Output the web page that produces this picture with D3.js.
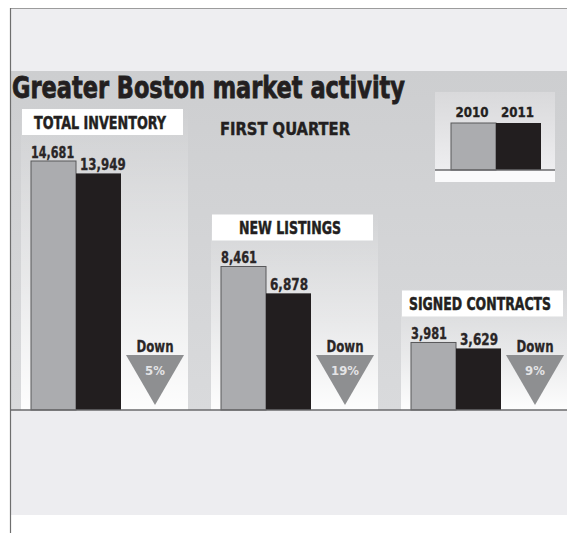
<!DOCTYPE html>
<html>
<head>
<meta charset="utf-8">
<script src="https://cdn.jsdelivr.net/npm/d3@7"></script>
<style>
  html, body { margin: 0; padding: 0; background: #fff; }
  svg { display: block; }
  text { font-family: "Liberation Sans Narrow", "DejaVu Sans Condensed", "Roboto", sans-serif; font-weight: bold; }
</style>
</head>
<body>
<div id="chart"></div>
<script>
// data
const categories = ["TOTAL INVENTORY", "NEW LISTINGS", "SIGNED CONTRACTS"];
const years = ["2010", "2011"];
const values2010 = [14681, 8461, 3981];
const values2011 = [13949, 6878, 3629];
const changeLabels = ["5%", "19%", "9%"];
const changeWord = "Down";
const title = "Greater Boston market activity";
const subtitle = "FIRST QUARTER";

const width = 567;
const height = 533;
const baseline = 410;
const barW = 45;
const colors = { "2010": "#abacaf", "2011": "#221e1f" };

const fmt = d3.format(",");

const svg = d3.select("#chart")
  .append("svg")
  .attr("width", width)
  .attr("height", height);

const defs = svg.append("defs");

let g1 = defs.append("linearGradient").attr("id", "panelGrad")
  .attr("x1", 0).attr("y1", 0).attr("x2", 0).attr("y2", 1);
g1.append("stop").attr("offset", "0%").attr("stop-color", "#cdced0");
g1.append("stop").attr("offset", "100%").attr("stop-color", "#d9dadc");

let g2 = defs.append("linearGradient").attr("id", "colGrad")
  .attr("x1", 0).attr("y1", 0).attr("x2", 0).attr("y2", 1);
g2.append("stop").attr("offset", "0%").attr("stop-color", "#ffffff").attr("stop-opacity", 0);
g2.append("stop").attr("offset", "55%").attr("stop-color", "#ffffff").attr("stop-opacity", 0.45);
g2.append("stop").attr("offset", "100%").attr("stop-color", "#ffffff").attr("stop-opacity", 0.95);

let g3 = defs.append("linearGradient").attr("id", "legGrad")
  .attr("x1", 0).attr("y1", 0).attr("x2", 0).attr("y2", 1);
g3.append("stop").attr("offset", "0%").attr("stop-color", "#d9d9db");
g3.append("stop").attr("offset", "100%").attr("stop-color", "#f1f1f3");

// background bands
svg.append("rect").attr("x", 10).attr("y", 8).attr("width", width - 10).attr("height", 63)
  .attr("fill", "#eeeef1");
svg.append("rect").attr("x", 10).attr("y", 71).attr("width", width - 10).attr("height", baseline - 71)
  .attr("fill", "url(#panelGrad)");
svg.append("rect").attr("x", 10).attr("y", baseline).attr("width", width - 10).attr("height", 515 - baseline)
  .attr("fill", "#ededf0");

svg.append("line").attr("x1", 10).attr("x2", width).attr("y1", 8.5).attr("y2", 8.5)
  .attr("stroke", "#9c9c9c").attr("stroke-width", 1);
svg.append("line").attr("x1", 10.5).attr("x2", 10.5).attr("y1", 8).attr("y2", height)
  .attr("stroke", "#6e6e6e").attr("stroke-width", 1.2);

// scales
const x = d3.scaleBand()
  .domain(categories)
  .range([31, 31 + 3 * 190])
  .paddingInner(0);

const y = d3.scaleLinear()
  .domain([0, d3.max(values2010.concat(values2011))])
  .range([baseline, 161]);

const rows = categories.map((c, i) => ({
  cat: c,
  v2010: values2010[i],
  v2011: values2011[i],
  change: changeLabels[i]
}));

// lighter columns behind each group
svg.append("g")
  .selectAll("rect")
  .data(rows)
  .join("rect")
  .attr("x", (d) => x(d.cat) - 10)
  .attr("y", (d) => y(d.v2010) - 55)
  .attr("width", 167)
  .attr("height", (d) => baseline - y(d.v2010) + 55)
  .attr("fill", "url(#colGrad)");

// title
svg.append("text")
  .attr("x", 12)
  .attr("y", 98)
  .attr("textLength", 393)
  .attr("lengthAdjust", "spacingAndGlyphs")
  .style("font-size", "31px")
  .style("font-weight", "900")
  .attr("fill", "#231f20")
  .attr("stroke", "#231f20")
  .attr("stroke-width", 0.8)
  .text(title);

svg.append("text")
  .attr("x", 220)
  .attr("y", 135)
  .attr("textLength", 130)
  .attr("lengthAdjust", "spacingAndGlyphs")
  .style("font-size", "18px")
  .attr("fill", "#231f20")
  .attr("stroke", "#231f20")
  .attr("stroke-width", 0.4)
  .text(subtitle);

const groups = svg.append("g")
  .selectAll("g")
  .data(rows)
  .join("g")
  .attr("class", "group");

// label boxes
groups.append("rect")
  .attr("x", (d) => x(d.cat) - 9)
  .attr("y", (d) => y(d.v2010) - 52)
  .attr("width", 161)
  .attr("height", 26)
  .attr("fill", "#ffffff");

const labelWidths = { "TOTAL INVENTORY": 132, "NEW LISTINGS": 102, "SIGNED CONTRACTS": 142 };

groups.append("g")
  .attr("transform", (d) => `translate(${x(d.cat) - 9 + 78}, ${y(d.v2010) - 52 + 20}) scale(1, 1.3)`)
  .append("text")
  .attr("x", 0)
  .attr("y", 0)
  .attr("text-anchor", "middle")
  .attr("textLength", (d) => labelWidths[d.cat])
  .attr("lengthAdjust", "spacingAndGlyphs")
  .style("font-size", "13px")
  .attr("fill", "#231f20")
  .attr("stroke", "#231f20")
  .attr("stroke-width", 0.35)
  .text((d) => d.cat);

// bars
groups.append("rect")
  .attr("x", (d) => x(d.cat))
  .attr("y", (d) => y(d.v2010))
  .attr("width", barW)
  .attr("height", (d) => baseline - y(d.v2010))
  .attr("fill", colors["2010"])
  .attr("stroke", "#58585a")
  .attr("stroke-width", 1);

groups.append("rect")
  .attr("x", (d) => x(d.cat) + barW)
  .attr("y", (d) => y(d.v2011))
  .attr("width", barW)
  .attr("height", (d) => baseline - y(d.v2011))
  .attr("fill", colors["2011"]);

// value labels
groups.append("text")
  .attr("x", (d) => x(d.cat))
  .attr("y", (d) => y(d.v2010) - 3)
  .attr("textLength", (d) => fmt(d.v2010).length * 7.2)
  .attr("lengthAdjust", "spacingAndGlyphs")
  .style("font-size", "15px")
  .attr("fill", "#2a2627")
  .attr("stroke", "#2a2627")
  .attr("stroke-width", 0.3)
  .text((d) => fmt(d.v2010));

groups.append("text")
  .attr("x", (d) => x(d.cat) + barW + 4)
  .attr("y", (d) => y(d.v2011) - 3)
  .attr("textLength", (d) => fmt(d.v2011).length * 7.6)
  .attr("lengthAdjust", "spacingAndGlyphs")
  .style("font-size", "15px")
  .attr("fill", "#2a2627")
  .attr("stroke", "#2a2627")
  .attr("stroke-width", 0.3)
  .text((d) => fmt(d.v2011));

// down arrows
const triTop = 355;
const triBottom = 405;
groups.append("path")
  .attr("d", (d) => {
    const cx = x(d.cat) + 124;
    return d3.line()([[cx - 29, triTop], [cx + 29, triTop], [cx, triBottom]]) + "Z";
  })
  .attr("fill", "#8e8f91");

groups.append("text")
  .attr("x", (d) => x(d.cat) + 124)
  .attr("y", 352)
  .attr("text-anchor", "middle")
  .attr("textLength", 37)
  .attr("lengthAdjust", "spacingAndGlyphs")
  .style("font-size", "16px")
  .attr("fill", "#2a2627")
  .attr("stroke", "#2a2627")
  .attr("stroke-width", 0.3)
  .text(changeWord);

groups.append("text")
  .attr("x", (d) => x(d.cat) + 124)
  .attr("y", 375)
  .attr("text-anchor", "middle")
  .style("font-size", "13px")
  .attr("fill", "#e4e4e6")
  .text((d) => d.change);

// baseline
svg.append("line")
  .attr("x1", 10).attr("x2", width)
  .attr("y1", baseline).attr("y2", baseline)
  .attr("stroke", "#6a6a6c")
  .attr("stroke-width", 1.5);

// legend
const leg = svg.append("g").attr("class", "legend");
leg.append("rect").attr("x", 435).attr("y", 92).attr("width", 120).attr("height", 90)
  .attr("fill", "url(#legGrad)");
leg.append("rect").attr("x", 435).attr("y", 170).attr("width", 120).attr("height", 12)
  .attr("fill", "#fafafb");

const lx = d3.scaleBand().domain(years).range([451, 541]);
leg.selectAll("rect.sw")
  .data(years)
  .join("rect")
  .attr("class", "sw")
  .attr("x", (d) => lx(d))
  .attr("y", 123)
  .attr("width", lx.bandwidth())
  .attr("height", 47)
  .attr("fill", (d) => colors[d])
  .attr("stroke", (d) => d === "2010" ? "#58585a" : "none")
  .attr("stroke-width", 1);

leg.selectAll("text")
  .data(years)
  .join("text")
  .attr("x", (d) => lx(d) + lx.bandwidth() / 2 + (d === "2010" ? -1.5 : -1))
  .attr("y", 117)
  .attr("text-anchor", "middle")
  .attr("textLength", 33)
  .attr("lengthAdjust", "spacingAndGlyphs")
  .style("font-size", "14px")
  .attr("fill", "#231f20")
  .attr("stroke", "#231f20")
  .attr("stroke-width", 0.3)
  .text((d) => d);

leg.append("line")
  .attr("x1", 435).attr("x2", 555)
  .attr("y1", 170).attr("y2", 170)
  .attr("stroke", "#6a6a6c")
  .attr("stroke-width", 1.5);
</script>
</body>
</html>
